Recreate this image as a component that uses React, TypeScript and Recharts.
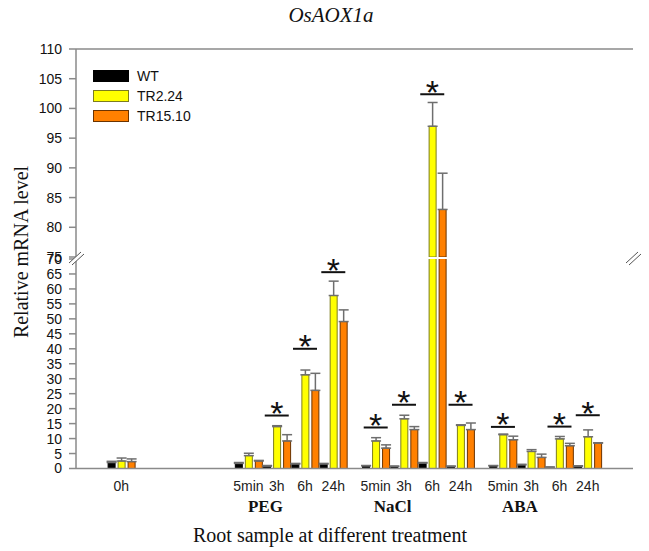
import React from 'react';
import {
  ComposedChart,
  Bar,
  XAxis,
  YAxis,
  ErrorBar,
  Scatter,
  ReferenceLine,
  Legend,
} from 'recharts';

// ---- data ---------------------------------------------------------------
const timeLabels = ['0h', '5min', '3h', '6h', '24h', '5min', '3h', '6h', '24h', '5min', '3h', '6h', '24h'];
const treatments = ['Control', 'PEG', 'PEG', 'PEG', 'PEG', 'NaCl', 'NaCl', 'NaCl', 'NaCl', 'ABA', 'ABA', 'ABA', 'ABA'];
const groupLabels = ['PEG', 'NaCl', 'ABA'];

const wtLevel = [2.0, 1.7, 0.8, 1.5, 1.5, 0.9, 0.7, 1.8, 0.7, 0.9, 1.2, 0.4, 0.8];
const wtError = [0.4, 0.3, 0.2, 0.2, 0.2, 0.1, 0.1, 0.2, 0.1, 0.1, 0.2, 0.1, 0.1];
const tr224Level = [2.5, 4.3, 14.0, 31.3, 57.8, 9.2, 16.6, 97.0, 14.4, 11.3, 5.7, 9.9, 10.6];
const tr224Error = [1.0, 0.8, 0.3, 1.6, 4.8, 1.1, 1.2, 4.0, 0.2, 0.2, 0.6, 0.8, 2.3];
const tr1510Level = [2.3, 2.5, 9.2, 26.1, 49.1, 6.8, 13.0, 83.0, 13.0, 9.6, 3.7, 7.6, 8.5];
const tr1510Error = [0.9, 0.2, 2.1, 5.7, 3.9, 1.1, 1.0, 6.1, 2.2, 1.2, 1.1, 0.8, 0.1];
// height of the significance bar (*) above each sample, null = not marked
const significance = [null, null, 17.7, 40, 65.6, 13.7, 21.3, 102.4, 21.3, 13.9, null, 14.0, 17.8];

const lowerTicks = [0, 5, 10, 15, 20, 25, 30, 35, 40, 45, 50, 55, 60, 65, 70];
const upperTicks = [75, 80, 85, 90, 95, 100, 105, 110];

// ---- layout ---------------------------------------------------------------
const LOWER_MAX = 70;
const UPPER_MIN = 75;
const UPPER_MAX = 110;
const CONTROL_GAP = 4.5;
const GROUP_GAP = 1.5;
const X_DOMAIN: [number, number] = [-1.6, 18.1];

const series = [
  { key: 'wt', name: 'WT', fill: '#000000', stroke: '#000000', err: wtError, level: wtLevel },
  { key: 'tr224', name: 'TR2.24', fill: '#FFFF00', stroke: '#7d7d1e', err: tr224Error, level: tr224Level },
  { key: 'tr1510', name: 'TR15.10', fill: '#FF8000', stroke: '#6b3300', err: tr1510Error, level: tr1510Level },
];

// x slot of each sample: consecutive within a treatment, with gaps between treatments
const slots: number[] = [];
treatments.forEach((t, i) => {
  if (i === 0) slots.push(0);
  else if (t === treatments[i - 1]) slots.push(slots[i - 1] + 1);
  else slots.push(slots[i - 1] + (treatments[i - 1] === 'Control' ? CONTROL_GAP : GROUP_GAP));
});
const groupLabelSlots = groupLabels.map((g) => slots[treatments.indexOf(g)] + 0.6);

const lowerRows = slots.map((slot, i) => {
  const row: any = { slot };
  series.forEach((s) => {
    row[s.key] = s.level[i];
    row[s.key + 'Err'] = s.level[i] <= LOWER_MAX ? [0, s.err[i]] : undefined;
  });
  return row;
});

const upperRows = slots.map((slot, i) => {
  const row: any = { slot };
  series.forEach((s) => {
    const high = s.level[i] >= UPPER_MIN;
    row[s.key] = high ? s.level[i] : null;
    row[s.key + 'Err'] = high ? [0, s.err[i]] : undefined;
  });
  return row;
});

const sigLower = slots
  .map((slot, i) => ({ slot, sig: significance[i] }))
  .filter((d) => d.sig !== null && (d.sig as number) <= LOWER_MAX);
const sigUpper = slots
  .map((slot, i) => ({ slot, sig: significance[i] }))
  .filter((d) => d.sig !== null && (d.sig as number) >= UPPER_MIN);

const SANS = 'Liberation Sans, Arial, sans-serif';
const SERIF = 'Liberation Serif, Times New Roman, serif';
const AXIS = '#8a8a8a';

const SigMark = (props: any) => {
  const { cx, cy } = props;
  if (cx == null || cy == null) return null;
  return (
    <g>
      <line x1={cx - 12} x2={cx + 12} y1={cy} y2={cy} stroke="#111" strokeWidth={2} />
      <text x={cx} y={cy + 9.5} textAnchor="middle" fontFamily={SANS} fontSize={34} fill="#111">
        *
      </text>
    </g>
  );
};

const renderLegend = () => (
  <div style={{ fontFamily: SANS, fontSize: 14, color: '#111' }}>
    {series.map((s) => (
      <div key={s.key} style={{ display: 'flex', alignItems: 'center', height: 20 }}>
        <span
          style={{
            display: 'inline-block',
            width: 34,
            height: 10,
            background: s.fill,
            border: `1px solid ${s.stroke}`,
            marginRight: 8,
          }}
        />
        <span>{s.name}</span>
      </div>
    ))}
  </div>
);

const tickStyle = { fontSize: 14, fill: '#111', fontFamily: SANS };

const renderBars = () =>
  series.map((s) => (
    <Bar
      key={s.key}
      dataKey={s.key}
      fill={s.fill}
      stroke={s.stroke}
      strokeWidth={1}
      barSize={7}
      isAnimationActive={false}
    >
      <ErrorBar dataKey={s.key + 'Err'} width={5} stroke="#6e6e6e" strokeWidth={1.5} direction="y" />
    </Bar>
  ));

const BreakMark = ({ x, y }: { x: number; y: number }) => (
  <g>
    <polygon points={`${x - 7},${y + 5} ${x + 5},${y - 6} ${x + 8},${y - 4} ${x - 4},${y + 7}`} fill="#fff" />
    <line x1={x - 7} y1={y + 5} x2={x + 5} y2={y - 6} stroke="#555" strokeWidth={1} />
    <line x1={x - 4} y1={y + 7} x2={x + 8} y2={y - 4} stroke="#555" strokeWidth={1} />
  </g>
);

export default function App() {
  return (
    <div style={{ position: 'absolute', left: 0, top: 0, width: 649, height: 551, background: '#fff' }}>
      {/* upper segment of the broken axis: 75 - 110 */}
      <div style={{ position: 'absolute', left: 0, top: 0 }}>
        <ComposedChart
          width={649}
          height={272}
          data={upperRows}
          margin={{ top: 49, right: 16, bottom: 15, left: 0 }}
          barGap={3}
        >
          <XAxis dataKey="slot" type="number" domain={X_DOMAIN} ticks={slots} hide />
          <YAxis
            type="number"
            domain={[UPPER_MIN, UPPER_MAX]}
            ticks={upperTicks}
            interval={0}
            allowDataOverflow
            width={76}
            tickSize={7}
            tickMargin={7}
            tick={tickStyle}
            stroke={AXIS}
            strokeWidth={1.5}
          />
          <YAxis yAxisId="frame" orientation="right" width={0} tick={false} tickLine={false} stroke={AXIS} strokeWidth={1.5} />
          <ReferenceLine y={UPPER_MAX} stroke={AXIS} strokeWidth={1.5} />
          {renderBars()}
          <Scatter data={sigUpper} dataKey="sig" shape={SigMark} isAnimationActive={false} />
          <Legend
            layout="vertical"
            align="center"
            verticalAlign="middle"
            content={renderLegend}
            wrapperStyle={{ left: 93, top: 66, width: 'auto' }}
          />
        </ComposedChart>
      </div>

      {/* lower segment of the broken axis: 0 - 70 */}
      <div style={{ position: 'absolute', left: 0, top: 230 }}>
        <ComposedChart
          width={649}
          height={321}
          data={lowerRows}
          margin={{ top: 29, right: 16, bottom: 26.5, left: 0 }}
          barGap={3}
        >
          <XAxis
            dataKey="slot"
            type="number"
            domain={X_DOMAIN}
            ticks={slots}
            interval={0}
            tickFormatter={(v: number) => timeLabels[slots.indexOf(v)] ?? ''}
            tickLine={false}
            tickSize={0}
            tickMargin={12.5}
            height={30}
            tick={{ ...tickStyle, fill: '#222' }}
            stroke={AXIS}
            strokeWidth={1.5}
          />
          <XAxis
            xAxisId="group"
            dataKey="slot"
            type="number"
            domain={X_DOMAIN}
            ticks={groupLabelSlots}
            interval={0}
            tickFormatter={(v: number) => groupLabels[groupLabelSlots.indexOf(v)] ?? ''}
            axisLine={false}
            tickLine={false}
            tickSize={0}
            tickMargin={1.5}
            height={26}
            tick={{ fontSize: 17, fontWeight: 'bold', fill: '#111', fontFamily: SERIF }}
          />
          <YAxis
            type="number"
            domain={[0, LOWER_MAX]}
            ticks={lowerTicks}
            interval={0}
            allowDataOverflow
            width={76}
            tickSize={7}
            tickMargin={7}
            tick={tickStyle}
            stroke={AXIS}
            strokeWidth={1.5}
          />
          <YAxis yAxisId="sig" type="number" domain={[0, LOWER_MAX]} hide />
          <YAxis yAxisId="frame" orientation="right" width={0} tick={false} tickLine={false} stroke={AXIS} strokeWidth={1.5} />
          {renderBars()}
          <Scatter data={sigLower} dataKey="sig" yAxisId="sig" shape={SigMark} isAnimationActive={false} />
        </ComposedChart>
      </div>

      {/* titles and axis-break marks */}
      <svg
        width={649}
        height={551}
        style={{ position: 'absolute', left: 0, top: 0, pointerEvents: 'none' }}
      >
        <text x={331} y={22} textAnchor="middle" fontFamily={SERIF} fontStyle="italic" fontSize={21} fill="#111">
          OsAOX1a
        </text>
        <text
          x={0}
          y={0}
          transform="translate(28 252) rotate(-90)"
          textAnchor="middle"
          fontFamily={SERIF}
          fontSize={20}
          fill="#111"
        >
          Relative mRNA level
        </text>
        <text x={330} y={542} textAnchor="middle" fontFamily={SERIF} fontSize={20} fill="#111">
          Root sample at different treatment
        </text>
        <BreakMark x={76} y={258} />
        <BreakMark x={633} y={258} />
      </svg>
    </div>
  );
}
